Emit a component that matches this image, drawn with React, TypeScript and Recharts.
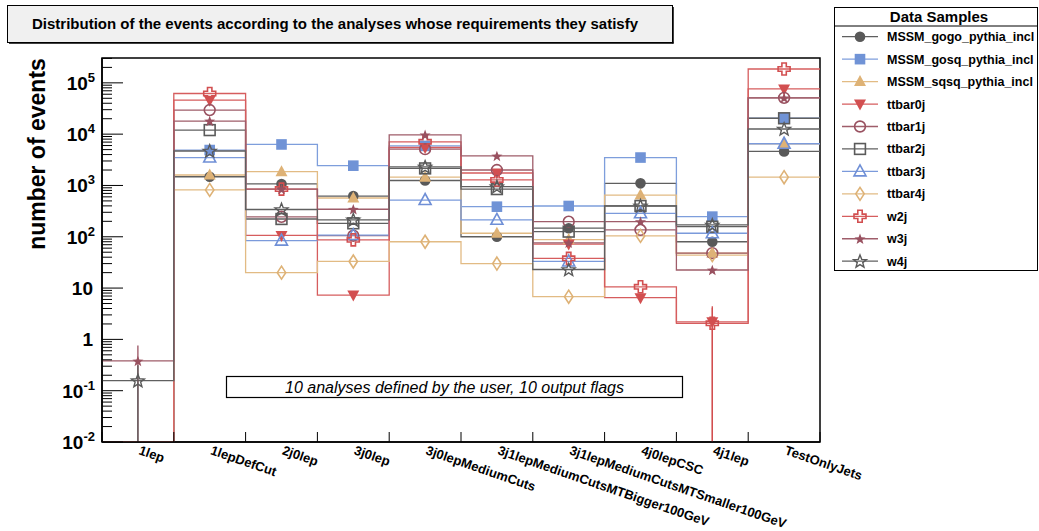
import React from 'react';
import { ComposedChart, Line, Scatter, XAxis, YAxis, ErrorBar, Legend, ReferenceArea } from 'recharts';

const CATEGORIES = [
  '1lep',
  '1lepDefCut',
  '2j0lep',
  '3j0lep',
  '3j0lepMediumCuts',
  '3j1lepMediumCutsMTBigger100GeV',
  '3j1lepMediumCutsMTSmaller100GeV',
  '4j0lepCSC',
  '4j1lep',
  'TestOnlyJets',
];

const MSSM_GOGO = [0, 1480, 1070, 620, 1250, 100, 147, 1100, 80, 4600];
const MSSM_GOSQ = [0, 4900, 6300, 2430, 5900, 386, 398, 3500, 247, 20400];
const MSSM_SQSQ = [0, 1600, 1860, 570, 1450, 117, 88, 650, 48, 6500];
const TTBAR0J = [0, 46000, 106, 7.3, 5500, 1750, 72, 6.5, 2.2, 76000];
const TTBAR1J = [0, 29500, 245, 105, 5100, 2000, 197, 136, 48, 51000];
const TTBAR2J = [0, 12000, 222, 183, 2150, 850, 126, 398, 157, 20400];
const TTBAR3J = [0, 3500, 84, 108, 520, 214, 33, 287, 117, 6500];
const TTBAR4J = [0, 820, 20, 33, 80, 30, 6.8, 104, 44, 1450];
const W2J = [0, 62000, 850, 87, 7100, 1280, 38, 10.6, 2.06, 186000];
const W3J = [0.38, 18000, 850, 344, 9700, 3760, 76, 197, 22.5, 51000];
const W4J = [0.157, 4700, 340, 214, 2300, 950, 23, 400, 170, 12600];

const ERR_TTBAR0J = [0, 0, 0, 0, 0, 0, 0, 0, 2.2, 0];
const ERR_W2J = [0, 0, 0, 0, 0, 0, 0, 0, 2.06, 0];
const ERR_W3J = [0.38, 0, 0, 0, 0, 0, 0, 0, 0, 0];
const ERR_W4J = [0.157, 0, 0, 0, 0, 0, 0, 0, 0, 0];

const Y_MAJOR = [0.01, 0.1, 1, 10, 100, 1000, 10000, 100000];
const Y_TICK_LABELS = ['10^-2', '10^-1', '1', '10', '10^2', '10^3', '10^4', '10^5'];
const Y_MIN = 0.01;
const Y_MAX = 3.05e5;

const FONT = '"Liberation Sans", Arial, Helvetica, sans-serif';

type Series = {
  name: string;
  values: number[];
  errors?: number[];
  color: string;
  line: string;
  marker: string;
};

const SERIES: Series[] = [
  { name: 'MSSM_gogo_pythia_incl', values: MSSM_GOGO, color: '#595959', line: '#5f5f5f', marker: 'circleFilled' },
  { name: 'MSSM_gosq_pythia_incl', values: MSSM_GOSQ, color: '#7093d6', line: '#7e9edc', marker: 'squareFilled' },
  { name: 'MSSM_sqsq_pythia_incl', values: MSSM_SQSQ, color: '#deb276', line: '#e2bb84', marker: 'triUpFilled' },
  { name: 'ttbar0j', values: TTBAR0J, errors: ERR_TTBAR0J, color: '#d24f50', line: '#d65d5e', marker: 'triDownFilled' },
  { name: 'ttbar1j', values: TTBAR1J, color: '#995160', line: '#9f5d6a', marker: 'circleOpen' },
  { name: 'ttbar2j', values: TTBAR2J, color: '#5a5a5a', line: '#606060', marker: 'squareOpen' },
  { name: 'ttbar3j', values: TTBAR3J, color: '#6f8fd6', line: '#7b9adb', marker: 'triUpOpen' },
  { name: 'ttbar4j', values: TTBAR4J, color: '#deb276', line: '#e2bb84', marker: 'diamondOpen' },
  { name: 'w2j', values: W2J, errors: ERR_W2J, color: '#d24f50', line: '#d65d5e', marker: 'crossOpen' },
  { name: 'w3j', values: W3J, errors: ERR_W3J, color: '#995160', line: '#9f5d6a', marker: 'starFilled' },
  { name: 'w4j', values: W4J, errors: ERR_W4J, color: '#5a5a5a', line: '#606060', marker: 'starOpen' },
];

const Y_TICKS: number[] = (() => {
  const t: number[] = [];
  Y_MAJOR.forEach((m) => {
    for (let k = 1; k <= 9; k++) {
      const v = m * k;
      if (v <= Y_MAX) t.push(v);
    }
  });
  return t;
})();

const X_TICKS: number[] = (() => {
  const t: number[] = [];
  for (let i = 0; i <= CATEGORIES.length * 2; i++) t.push(i / 2);
  return t;
})();

const stepData = (() => {
  const n = CATEGORIES.length;
  const rows: any[] = [];
  for (let i = 0; i <= n; i++) {
    const row: any = { x: i };
    SERIES.forEach((s, k) => {
      const v = s.values[Math.min(i, n - 1)];
      row['s' + k] = v > 0 ? v : Y_MIN;
    });
    rows.push(row);
  }
  return rows;
})();

const pointData = SERIES.map((s) =>
  s.values
    .map((v, i) => {
      const e = s.errors ? s.errors[i] : 0;
      return { x: i + 0.5, y: v, err: [Math.min(e, Math.max(0, v - Y_MIN * 1.001)), e] };
    })
    .filter((p) => p.y > 0)
);

function starPoints(cx: number, cy: number, ro: number, ri: number) {
  const pts: string[] = [];
  for (let i = 0; i < 10; i++) {
    const r = i % 2 === 0 ? ro : ri;
    const a = -Math.PI / 2 + (i * Math.PI) / 5;
    pts.push(`${cx + r * Math.cos(a)},${cy + r * Math.sin(a)}`);
  }
  return pts.join(' ');
}

function Marker({ kind, color, cx, cy }: { kind: string; color: string; cx: number; cy: number }) {
  if (cx == null || cy == null || isNaN(cx) || isNaN(cy)) return null;
  const sw = 1.6;
  switch (kind) {
    case 'circleFilled':
      return <circle cx={cx} cy={cy} r={5.3} fill={color} />;
    case 'squareFilled':
      return <rect x={cx - 5.3} y={cy - 5.3} width={10.6} height={10.6} fill={color} />;
    case 'triUpFilled':
      return <polygon points={`${cx},${cy - 6.5} ${cx - 6},${cy + 4.5} ${cx + 6},${cy + 4.5}`} fill={color} />;
    case 'triDownFilled':
      return <polygon points={`${cx - 6},${cy - 4.5} ${cx + 6},${cy - 4.5} ${cx},${cy + 6.5}`} fill={color} />;
    case 'circleOpen':
      return <circle cx={cx} cy={cy} r={5.4} fill="none" stroke={color} strokeWidth={sw} />;
    case 'squareOpen':
      return <rect x={cx - 5.4} y={cy - 5.4} width={10.8} height={10.8} fill="none" stroke={color} strokeWidth={sw} />;
    case 'triUpOpen':
      return (
        <polygon
          points={`${cx},${cy - 6.5} ${cx - 6},${cy + 4.5} ${cx + 6},${cy + 4.5}`}
          fill="none"
          stroke={color}
          strokeWidth={sw}
        />
      );
    case 'diamondOpen':
      return (
        <polygon
          points={`${cx},${cy - 6.5} ${cx + 4.2},${cy} ${cx},${cy + 6.5} ${cx - 4.2},${cy}`}
          fill="none"
          stroke={color}
          strokeWidth={sw}
        />
      );
    case 'crossOpen': {
      const a = 2.2;
      const L = 6;
      const p = [
        [cx - a, cy - L],
        [cx + a, cy - L],
        [cx + a, cy - a],
        [cx + L, cy - a],
        [cx + L, cy + a],
        [cx + a, cy + a],
        [cx + a, cy + L],
        [cx - a, cy + L],
        [cx - a, cy + a],
        [cx - L, cy + a],
        [cx - L, cy - a],
        [cx - a, cy - a],
      ]
        .map((q) => q.join(','))
        .join(' ');
      return <polygon points={p} fill="none" stroke={color} strokeWidth={sw} />;
    }
    case 'starFilled':
      return <polygon points={starPoints(cx, cy + 0.5, 5.8, 2.4)} fill={color} />;
    case 'starOpen':
      return <polygon points={starPoints(cx, cy + 0.5, 6.8, 2.9)} fill="none" stroke={color} strokeWidth={1.4} />;
    default:
      return null;
  }
}

const YTick = (props: any) => {
  const { x, y, payload } = props;
  const v = payload.value as number;
  const lg = Math.log10(v);
  const major = Math.abs(lg - Math.round(lg)) < 1e-6;
  const idx = Y_MAJOR.findIndex((m) => Math.abs(m - v) < v * 1e-6);
  let label: React.ReactNode = null;
  if (major && idx >= 0) {
    const [base, exp] = Y_TICK_LABELS[idx].split('^');
    label = (
      <text
        x={exp ? x - 7 : x - 9}
        y={y + 7}
        textAnchor="end"
        fontSize={19}
        fontWeight="bold"
        fontFamily={FONT}
        fill="#000"
      >
        {base}
        {exp ? (
          <tspan dy={-8} fontSize={13}>
            {exp}
          </tspan>
        ) : null}
      </text>
    );
  }
  return (
    <g>
      <line x1={x} y1={y} x2={x + (major ? 21 : 10)} y2={y} stroke="#000" strokeWidth={1} />
      {label}
    </g>
  );
};

const XTick = (props: any) => {
  const { x, y, payload } = props;
  const v = payload.value as number;
  if (Number.isInteger(v)) {
    return <line x1={x} y1={y} x2={x} y2={y - 10} stroke="#000" strokeWidth={1} />;
  }
  const idx = Math.floor(v);
  const ty = y + 12;
  return (
    <text
      x={x}
      y={ty}
      transform={`rotate(19 ${x} ${ty})`}
      textAnchor="start"
      fontSize={13}
      fontWeight="bold"
      fontFamily={FONT}
      fill="#000"
    >
      {CATEGORIES[idx]}
    </text>
  );
};

const LegendBox = () => {
  const W = 204;
  const H = 264;
  return (
    <svg width={W} height={H} style={{ display: 'block' }}>
      <rect x={0.5} y={0.5} width={W - 1} height={H - 1} fill="#fff" stroke="#000" strokeWidth={1} />
      <line x1={0} y1={19} x2={W} y2={19} stroke="#000" strokeWidth={1} />
      <text x={105} y={14.5} textAnchor="middle" fontSize={15} fontWeight="bold" fontFamily={FONT} fill="#000">
        Data Samples
      </text>
      {SERIES.map((s, i) => {
        const cy = 29.7 + 22.45 * i;
        return (
          <g key={s.name}>
            <line x1={8} y1={cy} x2={44} y2={cy} stroke={s.line} strokeWidth={1.3} />
            <Marker kind={s.marker} color={s.color} cx={26} cy={cy} />
            <text x={53} y={cy + 4.5} fontSize={12.5} fontWeight="bold" fontFamily={FONT} fill="#000">
              {s.name}
            </text>
          </g>
        );
      })}
    </svg>
  );
};

export default function App() {
  return (
    <div style={{ position: 'absolute', left: 0, top: 0, width: 1039, height: 531, background: '#fff' }}>
      <ComposedChart
        width={1039}
        height={531}
        data={stepData}
        margin={{ top: 58, right: 219, bottom: 0, left: 0 }}
      >
        <XAxis
          dataKey="x"
          type="number"
          domain={[0, CATEGORIES.length]}
          ticks={X_TICKS}
          interval={0}
          height={89}
          tickSize={0}
          tickMargin={0}
          tickLine={false}
          allowDataOverflow
          axisLine={{ stroke: '#000', strokeWidth: 1.5 }}
          tick={(p: any) => <XTick {...p} />}
        />
        <YAxis
          type="number"
          scale="log"
          domain={[Y_MIN, Y_MAX]}
          allowDataOverflow
          ticks={Y_TICKS}
          interval={0}
          width={102}
          tickSize={0}
          tickMargin={0}
          tickLine={false}
          axisLine={{ stroke: '#000', strokeWidth: 1.5 }}
          tick={(p: any) => <YTick {...p} />}
        />
        <Legend
          layout="vertical"
          align="center"
          verticalAlign="middle"
          wrapperStyle={{ left: 834, top: 7, width: 204, height: 264 }}
          content={() => <LegendBox />}
        />
        <ReferenceArea
          x1={0}
          x2={CATEGORIES.length}
          y1={Y_MIN}
          y2={Y_MAX}
          fill="none"
          fillOpacity={0}
          stroke="#000"
          strokeWidth={1.5}
          ifOverflow="visible"
        />
        {SERIES.map((s, k) => (
          <Line
            key={'l' + k}
            type="stepAfter"
            dataKey={'s' + k}
            stroke={s.line}
            strokeWidth={1.3}
            dot={false}
            activeDot={false}
            isAnimationActive={false}
            legendType="none"
          />
        ))}
        {SERIES.map((s, k) => (
          <Scatter
            key={'p' + k}
            name={s.name}
            data={pointData[k]}
            dataKey="y"
            fill={s.color}
            isAnimationActive={false}
            shape={(p: any) => <Marker kind={s.marker} color={s.color} cx={p.cx} cy={p.cy} />}
          >
            {s.errors ? (
              <ErrorBar dataKey="err" direction="y" width={0} stroke={s.color} strokeWidth={1.3} isAnimationActive={false} />
            ) : null}
          </Scatter>
        ))}
      </ComposedChart>
      <svg
        width={1039}
        height={531}
        style={{ position: 'absolute', left: 0, top: 0, pointerEvents: 'none' }}
      >
        <rect x={7.5} y={5.5} width={665} height={37} fill="#f0f0f0" stroke="#000" strokeWidth={1} />
        <line x1={673} y1={7} x2={673} y2={43.5} stroke="#000" strokeWidth={1.5} />
        <line x1={9} y1={43} x2={673.5} y2={43} stroke="#000" strokeWidth={1.5} />
        <text x={335} y={29} textAnchor="middle" fontSize={15} fontWeight="bold" fontFamily={FONT} fill="#000">
          Distribution of the events according to the analyses whose requirements they satisfy
        </text>
        <text
          transform="rotate(-90)"
          x={-154}
          y={45}
          textAnchor="middle"
          fontSize={23}
          fontWeight="bold"
          fontFamily={FONT}
          fill="#000"
        >
          number of events
        </text>
        <rect x={226.5} y={376.5} width={456} height={21} fill="#fff" stroke="#000" strokeWidth={1.2} />
        <text x={454.5} y={393} textAnchor="middle" fontSize={16} fontStyle="italic" fontFamily={FONT} fill="#000">
          10 analyses defined by the user, 10 output flags
        </text>
      </svg>
    </div>
  );
}
